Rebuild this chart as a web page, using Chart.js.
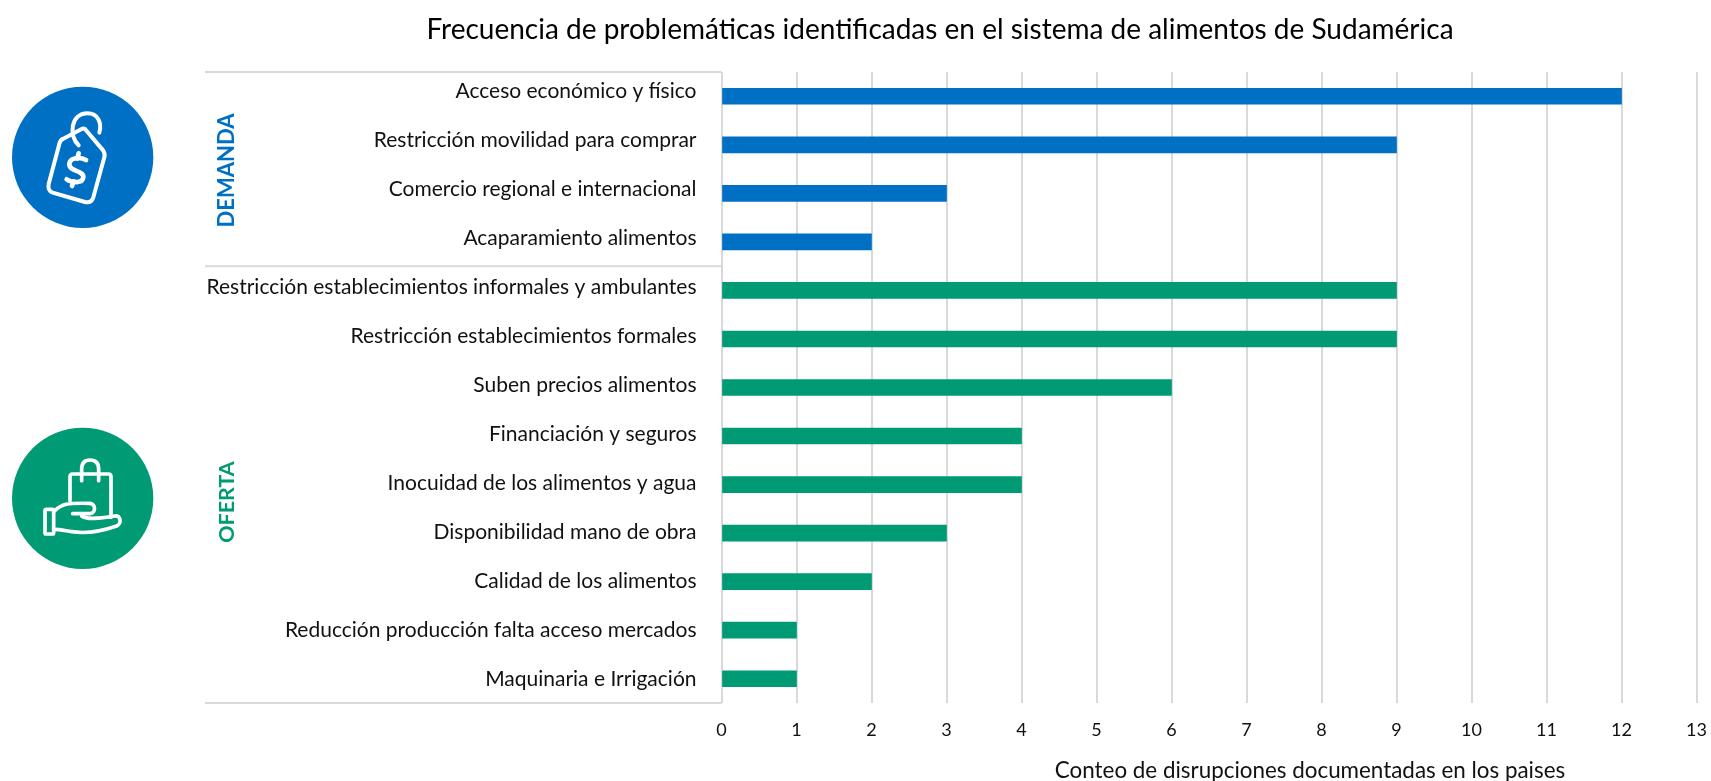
<!DOCTYPE html>
<html lang="es">
<head>
<meta charset="utf-8">
<title>Sistema de alimentos</title>
<script src="https://cdn.jsdelivr.net/npm/chart.js@4"></script>
<style>
  body { margin: 0; background: #fff; }
  #wrap { position: relative; width: 1711px; height: 781px; }
  #chart { position: absolute; left: 0; top: 0; }
  .icon { position: absolute; left: 0; width: 300px; fill: none; stroke: #fff; stroke-linecap: round; stroke-linejoin: round; }
</style>
</head>
<body>
<div id="wrap">
  <canvas id="chart" width="1711" height="781"></canvas>
  <!-- tag icon, viewBox is 3x page pixels -->
  <svg class="icon" style="top:60px;height:240px" viewBox="0 0 900 720">
    <circle cx="248" cy="292" r="212" fill="#0070C5" stroke="none"/>
    <g stroke-width="12">
      <path d="M255 207 L310 272 Q316 282 313 292 L280 412 Q274 430 255 426 L158 398 Q142 392 146 372 L178 252 Q180 240 190 236 L245 207 Q250 204 255 207 Z"/>
      <path d="M236 256 C205 228 212 160 262 160 C295 160 306 190 298 218"/>
      <path stroke-width="14" d="M258 300 C240 290 210 292 208 312 C206 335 252 330 250 352 C248 372 215 368 200 358"/>
      <path stroke-width="14" d="M236 280 L232 296 M220 364 L216 378"/>
    </g>
  </svg>
  <!-- bag and hand icon -->
  <svg class="icon" style="top:410px;height:170px" viewBox="0 0 900 510">
    <circle cx="248" cy="265" r="212" fill="#009B74" stroke="none"/>
    <g stroke-width="11">
      <path d="M210 272 V200 Q210 192 218 192 H325 Q333 192 333 200 V322"/>
      <path d="M245 212 V178 Q245 150 270 150 Q296 150 296 178 V212"/>
      <rect x="135" y="298" width="26" height="74" rx="4"/>
      <path d="M162 304 C185 282 200 278 270 280 C288 281 288 310 270 311 H218"/>
      <path d="M245 318 C260 330 300 325 345 318 C362 315 366 340 350 348 C310 362 260 372 215 365 C195 362 178 358 162 358"/>
    </g>
  </svg>
</div>

<script>
var categorias = [
  "Acceso económico y físico",
  "Restricción movilidad para comprar",
  "Comercio regional e internacional",
  "Acaparamiento alimentos",
  "Restricción establecimientos informales y ambulantes",
  "Restricción establecimientos formales",
  "Suben precios alimentos",
  "Financiación y seguros",
  "Inocuidad de los alimentos y agua",
  "Disponibilidad mano de obra",
  "Calidad de los alimentos",
  "Reducción producción falta acceso mercados",
  "Maquinaria e Irrigación"
];
var demanda = [12, 9, 3, 2];
var oferta = [9, 9, 6, 4, 4, 3, 2, 1, 1];
var xTicks = [0, 1, 2, 3, 4, 5, 6, 7, 8, 9, 10, 11, 12, 13];

var titulo = "Frecuencia de problemáticas identificadas en el sistema de alimentos de Sudamérica";
var tituloEjeX = "Conteo de disrupciones documentadas en los paises";

var AZUL = "#0070C5";
var VERDE = "#009B74";
var GRIS = "#D9D9D9";
var TEXTO = "#111111";
var FUENTE = "Lato, sans-serif";

var valores = demanda.concat(oferta);
var colores = [];
for (var i = 0; i < valores.length; i++) {
  colores.push(i < demanda.length ? AZUL : VERDE);
}

// table lines on the left, group labels, chart title and axis title
var extras = {
  id: "extras",
  beforeDatasetsDraw: function (chart) {
    var ctx = chart.ctx;
    var y = chart.scales.y;
    var area = chart.chartArea;
    var corte = y.getPixelForValue(demanda.length - 0.5);
    ctx.save();
    ctx.strokeStyle = GRIS;
    ctx.lineWidth = 2;
    [area.top, corte, area.bottom].forEach(function (py) {
      ctx.beginPath();
      ctx.moveTo(205, py);
      ctx.lineTo(area.left, py);
      ctx.stroke();
    });
    ctx.restore();
  },
  afterDraw: function (chart) {
    var ctx = chart.ctx;
    var y = chart.scales.y;
    ctx.save();
    ctx.textAlign = "center";
    ctx.textBaseline = "middle";
    ctx.fillStyle = "#000";
    ctx.font = "28px " + FUENTE;
    ctx.fillText(titulo, 940, 30);
    ctx.font = "22.4px " + FUENTE;
    ctx.fillStyle = TEXTO;
    ctx.fillText(tituloEjeX, 1310, 771);

    ctx.font = "bold 22px " + FUENTE;
    ctx.fillStyle = AZUL;
    ctx.save();
    ctx.translate(227, y.getPixelForValue(1.53));
    ctx.rotate(-Math.PI / 2);
    ctx.fillText("DEMANDA", 0, 0);
    ctx.restore();
    ctx.font = "bold 21.5px " + FUENTE;
    ctx.fillStyle = VERDE;
    ctx.save();
    ctx.translate(227, y.getPixelForValue(8.36));
    ctx.rotate(-Math.PI / 2);
    ctx.fillText("OFERTA", 0, 0);
    ctx.restore();
    ctx.restore();
  }
};

var chart = new Chart(document.getElementById("chart").getContext("2d"), {
  type: "bar",
  plugins: [extras],
  data: {
    labels: categorias,
    datasets: [{
      label: "Conteo",
      data: valores,
      backgroundColor: colores,
      borderWidth: 0,
      barThickness: 16
    }]
  },
  options: {
    indexAxis: "y",
    responsive: false,
    animation: false,
    layout: { padding: { top: 72, right: 14.5, bottom: 0, left: 0 } },
    plugins: {
      legend: { display: false },
      title: { display: false },
      tooltip: { enabled: false }
    },
    scales: {
      x: {
        type: "linear",
        min: 0,
        max: 13,
        afterBuildTicks: function (axis) {
          axis.ticks = xTicks.map(function (v) { return { value: v }; });
        },
        afterFit: function (axis) {
          axis.height = 78;
          axis.paddingLeft = 0;
          axis.paddingRight = 0;
        },
        grid: { color: GRIS, lineWidth: 2, drawTicks: false },
        border: { display: false },
        ticks: {
          padding: 16,
          maxRotation: 0,
          color: TEXTO,
          font: { family: FUENTE, size: 18 }
        }
      },
      y: {
        afterFit: function (axis) {
          axis.width = 721.5;
          // labels in the original sit a little tighter to the bars going down
          axis.getPixelForTick = function (n) {
            return axis.getPixelForValue(axis.ticks[n].value) + n * 0.45;
          };
        },
        grid: { display: false, drawTicks: false },
        border: { display: false },
        ticks: {
          autoSkip: false,
          padding: 25,
          labelOffset: -5,
          color: TEXTO,
          font: { family: FUENTE, size: 21 }
        }
      }
    }
  }
});
</script>
</body>
</html>
